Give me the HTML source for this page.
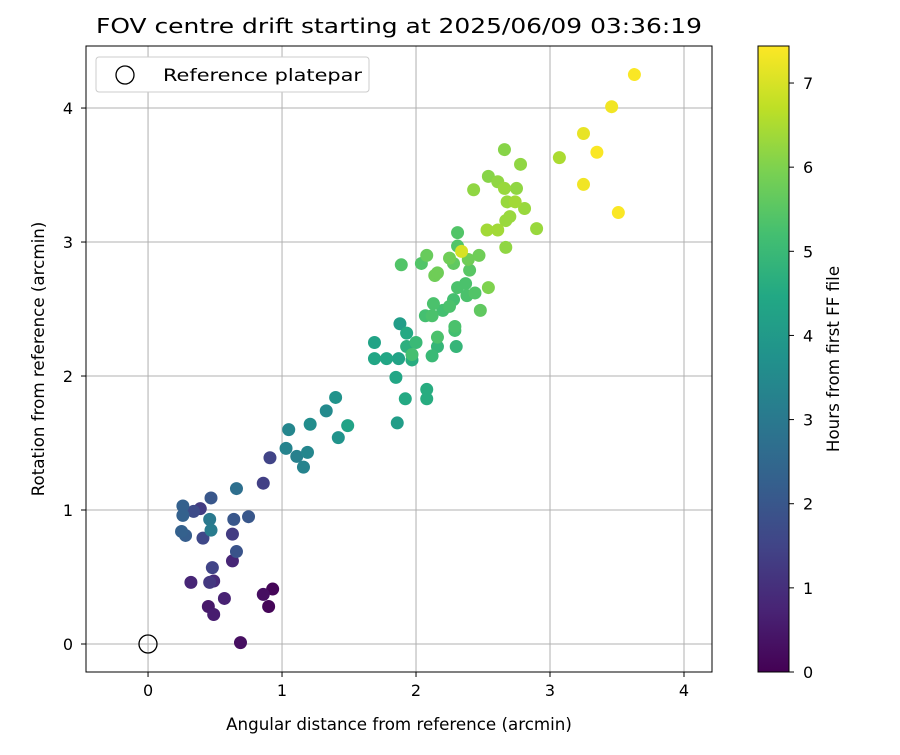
<!DOCTYPE html>
<html><head><meta charset="utf-8"><style>
body{margin:0;background:#fff;}
svg text{font-family:"DejaVu Sans","Liberation Sans",sans-serif;fill:#000;}
</style></head><body>
<svg id="chart" width="900" height="750" xmlns="http://www.w3.org/2000/svg">
<defs><linearGradient id="vir" x1="0" y1="1" x2="0" y2="0"></linearGradient></defs>
<rect width="900" height="750" fill="#fff"/>
<text x="399" y="33" font-size="20" text-anchor="middle" textLength="606" lengthAdjust="spacingAndGlyphs">FOV centre drift starting at 2025/06/09 03:36:19</text>
<g id="grid"></g>
<g id="points"></g>
<circle cx="148" cy="644" r="9" fill="none" stroke="#000" stroke-width="1.3"/>
<rect x="86" y="46" width="626" height="626" fill="none" stroke="#000" stroke-width="1"/>
<g id="ticks"></g>
<text x="399" y="730" font-size="16.7" text-anchor="middle">Angular distance from reference (arcmin)</text>
<text transform="translate(44,359) rotate(-90)" font-size="16.7" text-anchor="middle">Rotation from reference (arcmin)</text>
<g>
<rect x="96" y="57" width="273" height="35" rx="3" fill="#fff" stroke="#ccc"/>
<circle cx="125" cy="75" r="9" fill="none" stroke="#000" stroke-width="1.3"/>
<text x="163" y="81" font-size="16.7" textLength="199" lengthAdjust="spacingAndGlyphs">Reference platepar</text>
</g>
<g>
<rect x="758" y="46" width="31" height="626" fill="url(#vir)" stroke="#000" stroke-width="1"/>
<g id="cbticks"></g>
<text transform="translate(839,359) rotate(-90)" font-size="16.7" text-anchor="middle">Hours from first FF file</text>
</g>
</svg>
<script>
const xs=[0.69,0.49,0.45,0.57,0.32,0.46,0.49,0.48,0.63,0.66,0.86,0.93,0.90,0.63,0.41,0.25,0.28,0.46,0.47,0.64,0.75,0.26,0.26,0.34,0.39,0.47,0.66,0.86,0.91,1.03,1.05,1.11,1.19,1.16,1.21,1.33,1.40,1.49,1.42,1.86,1.92,2.08,2.08,1.85,1.69,1.69,1.78,1.87,1.88,1.93,1.93,1.97,2.00,1.97,2.12,2.16,2.16,2.30,2.29,2.29,2.07,2.13,2.12,2.20,2.25,2.28,2.31,2.37,2.38,2.44,2.48,2.54,1.89,2.04,2.08,2.14,2.16,2.25,2.28,2.31,2.31,2.34,2.40,2.39,2.47,2.53,2.61,2.67,2.90,2.67,2.43,2.54,2.61,2.66,2.66,2.75,2.78,2.68,2.74,2.70,2.81,3.07,3.25,3.35,3.25,3.51,3.46,3.63];
const ys=[0.01,0.22,0.28,0.34,0.46,0.46,0.47,0.57,0.62,0.69,0.37,0.41,0.28,0.82,0.79,0.84,0.81,0.93,0.85,0.93,0.95,1.03,0.96,0.99,1.01,1.09,1.16,1.20,1.39,1.46,1.60,1.40,1.43,1.32,1.64,1.74,1.84,1.63,1.54,1.65,1.83,1.90,1.83,1.99,2.25,2.13,2.13,2.13,2.39,2.32,2.22,2.12,2.25,2.16,2.15,2.22,2.29,2.22,2.37,2.34,2.45,2.54,2.45,2.49,2.52,2.57,2.66,2.69,2.60,2.62,2.49,2.66,2.83,2.84,2.90,2.75,2.77,2.88,2.84,2.97,3.07,2.93,2.79,2.87,2.90,3.09,3.09,2.96,3.10,3.16,3.39,3.49,3.45,3.40,3.69,3.40,3.58,3.30,3.30,3.19,3.25,3.63,3.81,3.67,3.43,3.22,4.01,4.25];
const hours=[0.3,0.6,0.5,0.7,0.8,1.2,0.9,1.5,0.8,1.9,0.3,0.1,0.1,1.3,1.6,2.3,2.2,3.0,3.1,2.0,2.0,2.3,2.3,1.7,1.3,2.0,2.7,1.4,1.5,3.3,3.4,3.2,3.4,3.3,3.6,3.5,3.8,4.3,3.8,4.1,4.5,4.6,4.6,4.4,4.3,4.4,4.4,4.3,4.1,4.5,4.7,4.6,5.0,5.2,5.0,4.9,5.3,4.9,5.3,5.2,5.2,5.3,5.3,5.2,5.3,5.2,5.3,5.3,5.3,5.4,5.6,6.0,5.4,5.4,5.7,5.8,5.8,5.8,5.6,5.4,5.4,7.0,5.5,5.8,5.8,6.4,6.4,6.2,6.3,6.3,6.2,6.1,6.2,6.3,6.1,6.2,6.2,6.3,6.4,6.3,6.3,6.5,7.2,7.4,7.3,7.4,7.3,7.4];
const xTicks=[0,1,2,3,4];
const yTicks=[0,1,2,3,4];
const cTicks=[0,1,2,3,4,5,6,7];
const X0=-0.463,X1=4.209,Y0=-0.209,Y1=4.463,C0=0,C1=7.44;
const L=86,R=712,T=46,B=672;
const sx=v=>L+(v-X0)/(X1-X0)*(R-L);
const sy=v=>B-(v-Y0)/(Y1-Y0)*(B-T);
const sc=v=>B-(v-C0)/(C1-C0)*(B-T);
const vir=["#440154","#482475","#414487","#355f8d","#2a788e","#21918c","#22a884","#44bf70","#7ad151","#bddf26","#fde725"];
function hex(h){return [1,3,5].map(i=>parseInt(h.substr(i,2),16));}
function cmap(t){t=Math.max(0,Math.min(1,t))*10;const i=Math.min(9,Math.floor(t)),f=t-i;const a=hex(vir[i]),b=hex(vir[i+1]);return "rgb("+a.map((v,k)=>Math.round(v+(b[k]-v)*f)).join(",")+")";}
const NS="http://www.w3.org/2000/svg";
function mk(tag,attrs,parent){const e=document.createElementNS(NS,tag);for(const k in attrs)e.setAttribute(k,attrs[k]);parent.appendChild(e);return e;}
const grad=document.getElementById("vir");
vir.forEach((c,i)=>mk("stop",{offset:(i*10)+"%","stop-color":c},grad));
const grid=document.getElementById("grid"),ticks=document.getElementById("ticks"),cb=document.getElementById("cbticks"),pts=document.getElementById("points");
xTicks.forEach(v=>{const x=sx(v);
const g=mk("line",{x1:x,x2:x,y1:T,y2:B,stroke:"#b0b0b0","stroke-width":1},grid);


const t=mk("line",{x1:x,x2:x,y1:B,y2:B+5,stroke:"#000"},ticks);


const tx=mk("text",{x:x,y:B+24,"font-size":16,"text-anchor":"middle"},ticks);tx.textContent=v;


});
yTicks.forEach(v=>{const y=sy(v);
const g=mk("line",{x1:L,x2:R,y1:y,y2:y,stroke:"#b0b0b0","stroke-width":1},grid);


const t=mk("line",{x1:L-5,x2:L,y1:y,y2:y,stroke:"#000"},ticks);


const tx=mk("text",{x:L-13,y:y+6,"font-size":16,"text-anchor":"end"},ticks);tx.textContent=v;


});
cTicks.forEach(v=>{const y=sc(v);
const t=mk("line",{x1:789,x2:794,y1:y,y2:y,stroke:"#000"},cb);


const tx=mk("text",{x:803,y:y+6,"font-size":16},cb);tx.textContent=v;


});
const order=hours.map((h,i)=>i).sort((a,b)=>hours[a]-hours[b]);
order.forEach(i=>{
const c=mk("circle",{cx:sx(xs[i]),cy:sy(ys[i]),r:6.5,fill:cmap((hours[i]-C0)/(C1-C0))},pts);


});
</script>
</body></html>
